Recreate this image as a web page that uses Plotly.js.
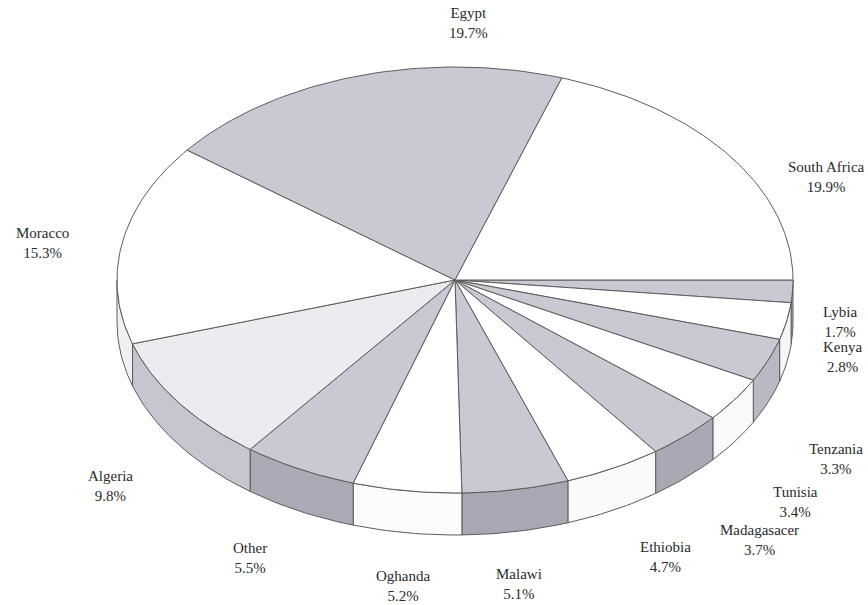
<!DOCTYPE html>
<html>
<head>
<meta charset="utf-8">
<script src="https://cdn.plot.ly/plotly-3.0.1.min.js"></script>
<style>html,body{margin:0;padding:0;background:#fff;}#chart{width:868px;height:605px;}</style>
</head>
<body>
<div id="chart"></div>
<script>
// ---- data (clockwise from 3 o'clock) ----
const countries = ["Lybia","Kenya","Tenzania","Tunisia","Madagasacer","Ethiobia","Malawi","Oghanda","Other","Algeria","Moracco","Egypt","South Africa"];
const shares    = [1.7, 2.8, 3.3, 3.4, 3.7, 4.7, 5.1, 5.2, 5.5, 9.8, 15.3, 19.7, 19.9];
const shareLabels = ["1.7%","2.8%","3.3%","3.4%","3.7%","4.7%","5.1%","5.2%","5.5%","9.8%","15.3%","19.7%","19.9%"];

// ---- styles ----
const G = "#c9c9d3", W = "#ffffff", A = "#ececf0";
const topColors  = [G, W, G, W, G, W, G, W, G, A, W, G, W];
const sideColors = ["#b4b4c0","#f6f6f6","#b9b9c4","#fafafa","#a9a9b6","#fafafa","#a8a8b5","#fbfbfb","#aaaab6","#c6c6d0","#f0f0f0","#b0b0bc","#f6f6f6"];
const labelPos = [[840,322],[842,357],[836,459],[795,502],[759,540],[665,557],[519,584],[403,586],[250,558],[110,486],[42,243],[468,23],[826,177]];

// ---- geometry ----
const cx = 455, cy = 280, rx = 338, ry = 213, depth = 42;
const total = shares.reduce((s, v) => s + v, 0);
function arc(d1, d2, dy) {
  const xs = [], ys = [];
  const n = Math.max(2, Math.ceil(Math.abs(d2 - d1)));
  for (let i = 0; i <= n; i++) {
    const d = d1 + (d2 - d1) * i / n, r = d * Math.PI / 180;
    xs.push(cx + rx * Math.cos(r));
    ys.push(cy + ry * Math.sin(r) + dy);
  }
  return [xs, ys];
}
const lineStyle = {color: "#5c5c5c", width: 1};
const traces = [];
const spans = [];
let cum = 0;
shares.forEach((v, i) => {
  const s = cum / total * 360; cum += v;
  const e = cum / total * 360;
  spans.push([s, e]);
});
// sides
spans.forEach(([s, e], i) => {
  const a1 = Math.max(s, 0), a2 = Math.min(e, 180);
  if (a2 <= a1) return;
  const [x1, y1] = arc(a1, a2, 0);
  const [x2, y2] = arc(a2, a1, depth);
  traces.push({type: "scatter", mode: "lines", x: x1.concat(x2, [x1[0]]), y: y1.concat(y2, [y1[0]]),
    fill: "toself", fillcolor: sideColors[i], line: lineStyle, hoverinfo: "skip", showlegend: false});
});
// tops
spans.forEach(([s, e], i) => {
  const [xa, ya] = arc(s, e, 0);
  traces.push({type: "scatter", mode: "lines", x: [cx].concat(xa, [cx]), y: [cy].concat(ya, [cy]),
    fill: "toself", fillcolor: topColors[i], line: lineStyle, hoverinfo: "skip", showlegend: false});
});

const annotations = countries.map((c, i) => ({
  x: labelPos[i][0], y: labelPos[i][1], xref: "x", yref: "y",
  text: c + "<br>" + shareLabels[i], showarrow: false, align: "center",
  xanchor: "center", yanchor: "middle",
  font: {family: "Liberation Serif, Times New Roman, serif", size: 15, color: "#2a2a2a"}
}));

Plotly.newPlot("chart", traces, {
  width: 868, height: 605, margin: {l: 0, r: 0, t: 0, b: 0},
  paper_bgcolor: "#fff", plot_bgcolor: "#fff",
  xaxis: {range: [0, 868], visible: false, fixedrange: true},
  yaxis: {range: [605, 0], visible: false, fixedrange: true},
  annotations: annotations, showlegend: false
}, {staticPlot: true});
</script>
</body>
</html>
